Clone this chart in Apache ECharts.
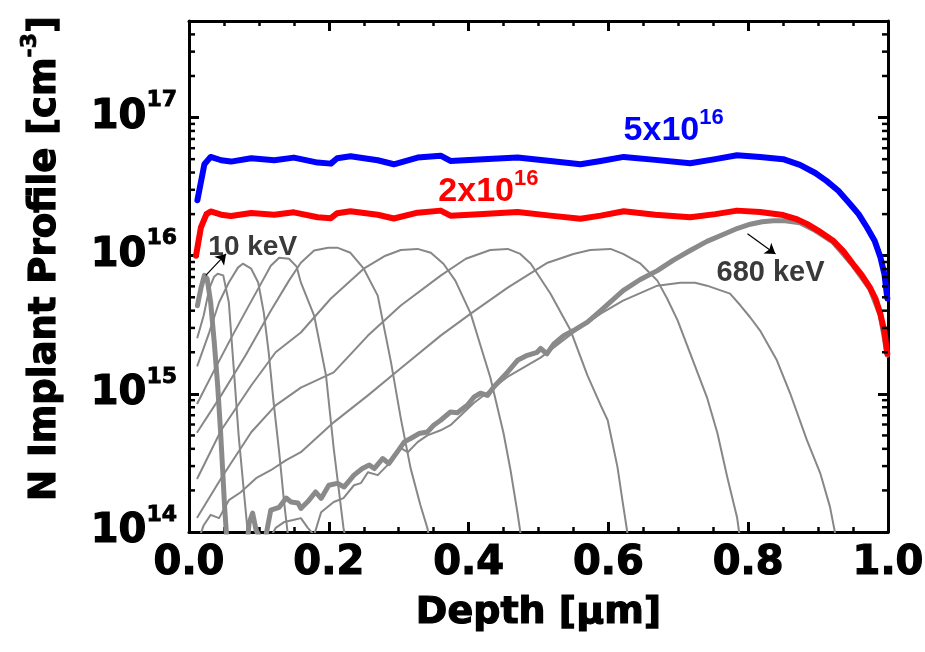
<!DOCTYPE html>
<html>
<head>
<meta charset="utf-8">
<script src="https://cdn.jsdelivr.net/npm/echarts@6/dist/echarts.min.js"></script>
<style>
  html, body { margin: 0; padding: 0; background: #fff; }
  #chart { width: 925px; height: 652px; }
</style>
</head>
<body>
<div id="chart"></div>
<script>
// Axis ranges
const depthMin = 0, depthMax = 1.0, depthStep = 0.2;
const concMin = 1e14, concMax = 5e17;
const concMantissas = [2, 3, 4, 5, 6, 7, 8, 9];

// Total box profiles: [depth (µm), N concentration (cm^-3)]
const box5e16 = [
  [0.012, 2.52e16], [0.022, 4.59e16], [0.031, 5.19e16], [0.046, 4.91e16], [0.060, 4.80e16],
  [0.089, 5.07e16], [0.122, 4.91e16], [0.150, 5.13e16], [0.184, 4.72e16], [0.203, 4.64e16],
  [0.212, 5.07e16], [0.231, 5.25e16], [0.270, 4.91e16], [0.293, 4.59e16], [0.327, 5.13e16],
  [0.360, 5.30e16], [0.374, 4.85e16], [0.421, 5.00e16], [0.470, 5.13e16], [0.517, 4.85e16],
  [0.560, 4.59e16], [0.589, 4.85e16], [0.622, 5.19e16], [0.667, 4.94e16], [0.717, 4.67e16],
  [0.753, 5.00e16], [0.784, 5.34e16], [0.817, 5.19e16], [0.850, 5.00e16], [0.874, 4.54e16],
  [0.896, 3.97e16], [0.912, 3.48e16], [0.929, 2.95e16], [0.946, 2.36e16], [0.958, 2.00e16],
  [0.970, 1.60e16], [0.981, 1.28e16], [0.989, 9.8e15], [0.995, 7.3e15], [0.999, 4.9e15]
];
const box2e16 = [
  [0.010, 1.00e16], [0.017, 1.60e16], [0.025, 2.00e16], [0.031, 2.09e16], [0.046, 1.98e16],
  [0.060, 1.94e16], [0.089, 2.04e16], [0.122, 1.98e16], [0.150, 2.06e16], [0.184, 1.90e16],
  [0.203, 1.87e16], [0.212, 2.03e16], [0.231, 2.10e16], [0.270, 1.98e16], [0.293, 1.86e16],
  [0.327, 2.05e16], [0.360, 2.12e16], [0.374, 1.95e16], [0.421, 2.00e16], [0.470, 2.07e16],
  [0.517, 1.95e16], [0.560, 1.85e16], [0.589, 1.95e16], [0.622, 2.10e16], [0.667, 1.98e16],
  [0.717, 1.90e16], [0.753, 2.00e16], [0.784, 2.12e16], [0.817, 2.07e16], [0.850, 1.97e16],
  [0.868, 1.85e16], [0.884, 1.70e16], [0.900, 1.52e16], [0.921, 1.29e16], [0.936, 1.08e16],
  [0.950, 8.7e15], [0.962, 7.3e15], [0.974, 5.9e15], [0.982, 4.9e15], [0.989, 3.8e15],
  [0.995, 2.8e15], [0.999, 1.95e15]
];

// Single-energy implant profiles (shallowest to deepest)
const implant10keV = [
  [0.012, 4.35e15], [0.017, 5.8e15], [0.022, 7.2e15], [0.026, 6.8e15], [0.031, 4.6e15],
  [0.036, 2.4e15], [0.041, 1.15e15], [0.045, 5.5e14], [0.048, 2.9e14], [0.051, 1.5e14],
  [0.054, 9e13]
];
const implantA = [
  [0.012, 2.56e15], [0.021, 3.69e15], [0.029, 5.78e15], [0.036, 7.05e15], [0.041, 7.41e15],
  [0.049, 7.2e15], [0.057, 4.58e15], [0.064, 1.53e15], [0.071, 5.0e14], [0.079, 1.85e14],
  [0.084, 1.0e14], [0.087, 7.4e13]
];
const implantB = [
  [0.012, 1.6e15], [0.029, 2.79e15], [0.043, 4.58e15], [0.057, 6.4e15], [0.070, 8.2e15],
  [0.077, 8.75e15], [0.089, 8.05e15], [0.099, 6.4e15], [0.107, 3.87e15], [0.114, 2.0e15],
  [0.121, 8.7e14], [0.129, 3.78e14], [0.136, 1.65e14], [0.141, 1.0e14], [0.146, 7.4e13]
];
const implantC = [
  [0.012, 8.54e14], [0.036, 1.48e15], [0.060, 2.52e15], [0.084, 4.21e15], [0.103, 6.28e15],
  [0.117, 8.47e15], [0.129, 9.68e15], [0.143, 9.5e15], [0.154, 8.33e15], [0.160, 6.4e15],
  [0.179, 3.69e15], [0.196, 1.36e15], [0.207, 4.04e14], [0.221, 1.07e14], [0.226, 8e13]
];
const implantD = [
  [0.012, 5.3e14], [0.046, 9.75e14], [0.081, 1.9e15], [0.117, 4.0e15], [0.143, 6.6e15],
  [0.160, 8.9e15], [0.179, 1.09e16], [0.199, 1.14e16], [0.213, 1.14e16], [0.231, 1.05e16],
  [0.250, 8.05e15], [0.270, 5.14e15], [0.289, 1.69e15], [0.303, 6.65e14], [0.317, 2.9e14],
  [0.331, 1.57e14], [0.341, 1.07e14], [0.346, 8e13]
];
const implantE = [
  [0.012, 2.45e14], [0.046, 5.45e14], [0.089, 1.15e15], [0.124, 2.0e15], [0.160, 2.78e15],
  [0.203, 4.9e15], [0.250, 8.05e15], [0.281, 1.0e16], [0.303, 1.1e16], [0.327, 1.12e16],
  [0.346, 1.05e16], [0.364, 8.75e15], [0.381, 6.6e15], [0.403, 3.81e15], [0.417, 2.24e15],
  [0.431, 1.32e15], [0.450, 5.19e14], [0.460, 2.8e14], [0.470, 1.37e14], [0.474, 1.0e14],
  [0.477, 8e13]
];
const implantF = [
  [0.012, 1.28e14], [0.046, 2.45e14], [0.089, 5.27e14], [0.124, 8.26e14], [0.160, 1.11e15],
  [0.207, 1.43e15], [0.256, 2.64e15], [0.303, 4.36e15], [0.360, 7.17e15], [0.396, 9.5e15],
  [0.431, 1.1e16], [0.456, 1.12e16], [0.474, 1.03e16], [0.489, 8.75e15], [0.517, 5.32e15],
  [0.546, 2.87e15], [0.570, 1.36e15], [0.589, 8.26e14], [0.599, 6.44e14], [0.613, 2.95e14],
  [0.620, 1.7e14], [0.627, 1.0e14], [0.630, 8e13]
];
const implantG = [
  [0.011, 8e13], [0.021, 1.12e14], [0.031, 1.33e14], [0.043, 1.26e14], [0.057, 1.7e14],
  [0.074, 1.94e14], [0.096, 2.45e14], [0.117, 2.8e14], [0.139, 3.31e14], [0.160, 3.78e14],
  [0.207, 6.22e14], [0.256, 9.75e14], [0.303, 1.53e15], [0.360, 2.64e15], [0.403, 3.81e15],
  [0.456, 5.87e15], [0.513, 8.9e15], [0.550, 1.03e16], [0.574, 1.1e16], [0.603, 1.12e16],
  [0.621, 1.03e16], [0.646, 8.75e15], [0.670, 6.6e15], [0.684, 4.9e15], [0.699, 3.4e15],
  [0.717, 1.96e15], [0.741, 9.44e14], [0.756, 5.19e14], [0.770, 2.5e14], [0.784, 1.28e14],
  [0.787, 1.0e14], [0.790, 8e13]
];
const implantH = [
  [0.110, 8e13], [0.124, 1.07e14], [0.136, 1.18e14], [0.149, 1.22e14], [0.160, 1.26e14],
  [0.170, 1.07e14], [0.179, 9.5e13], [0.189, 1.39e14], [0.207, 1.65e14], [0.221, 1.76e14],
  [0.236, 2.18e14], [0.246, 2.26e14], [0.256, 2.71e14], [0.270, 2.58e14], [0.284, 3.05e14],
  [0.293, 3.6e14], [0.303, 4.04e14], [0.313, 3.78e14], [0.327, 4.47e14], [0.341, 5.01e14],
  [0.360, 5.45e14], [0.374, 5.93e14], [0.407, 8.54e14], [0.455, 1.32e15], [0.503, 1.83e15],
  [0.550, 2.78e15], [0.589, 3.81e15], [0.621, 4.73e15], [0.670, 6.07e15], [0.703, 6.38e15],
  [0.724, 6.38e15], [0.741, 6.07e15], [0.774, 5.32e15], [0.789, 4.36e15], [0.803, 3.57e15],
  [0.817, 2.87e15], [0.841, 1.75e15], [0.860, 1.01e15], [0.884, 4.62e14], [0.903, 2.67e14],
  [0.917, 1.52e14], [0.924, 1.0e14], [0.927, 8e13]
];
const implant680keV = [
  [0.083, 8e13], [0.086, 1.16e14], [0.091, 1.37e14], [0.096, 1.03e14], [0.103, 8.8e13],
  [0.110, 9.4e13], [0.117, 1.44e14], [0.129, 1.51e14], [0.139, 1.76e14], [0.146, 1.65e14],
  [0.156, 1.62e14], [0.160, 1.48e14], [0.170, 1.66e14], [0.181, 1.95e14], [0.189, 1.75e14],
  [0.200, 2.18e14], [0.212, 2.25e14], [0.222, 2.12e14], [0.236, 2.58e14], [0.248, 2.88e14],
  [0.258, 3.05e14], [0.265, 2.88e14], [0.277, 3.4e14], [0.286, 3.13e14], [0.298, 3.8e14],
  [0.308, 4.49e14], [0.317, 4.75e14], [0.329, 5.16e14], [0.341, 5.3e14], [0.350, 5.93e14],
  [0.360, 6.44e14], [0.374, 7.39e14], [0.384, 7.3e14], [0.398, 8.26e14], [0.408, 9.5e14],
  [0.417, 1.01e15], [0.427, 9.75e14], [0.436, 1.12e15], [0.449, 1.32e15], [0.456, 1.44e15],
  [0.470, 1.75e15], [0.484, 1.9e15], [0.498, 2.0e15], [0.503, 2.13e15], [0.512, 1.95e15],
  [0.522, 2.3e15], [0.536, 2.64e15], [0.550, 2.87e15], [0.570, 3.3e15], [0.589, 4.0e15],
  [0.621, 5.59e15], [0.645, 6.7e15], [0.670, 7.8e15], [0.693, 9.3e15], [0.717, 1.09e16],
  [0.741, 1.27e16], [0.765, 1.43e16], [0.785, 1.58e16], [0.803, 1.69e16], [0.820, 1.76e16],
  [0.836, 1.79e16], [0.853, 1.79e16], [0.874, 1.73e16], [0.896, 1.52e16], [0.921, 1.26e16],
  [0.950, 8.5e15], [0.974, 5.75e15], [0.989, 3.7e15], [0.999, 1.9e15]
];

// Annotation anchors [depth, concentration]
const note5e16 = [0.621, 8.0e16];
const note2e16 = [0.356, 2.9e16];
const note10keV = [0.027, 1.16e16];
const note680keV = [0.754, 7.5e15];
const arrow10keV = [[0.024, 7.2e15], [0.053, 1.03e16]];
const arrow680keV = [[0.799, 1.44e16], [0.839, 1.03e16]];

// Minor ticks of the log axis: 2..9 x 10^n inside the range
const minorConcTicks = [];
for (let e = 14; e <= 17; e++) {
  concMantissas.forEach(m => {
    const v = m * Math.pow(10, e);
    if (v > concMin && v < concMax) minorConcTicks.push([depthMin, v]);
  });
}

const AXIS_FONT = "'DejaVu Sans', sans-serif";
const NOTE_FONT = "'Liberation Sans', Arial, sans-serif";
const BLACK = '#000';
// heavy axis lettering: bold face thickened with a thin outline of the same colour
const heavy = { fontFamily: AXIS_FONT, fontWeight: 'bold', color: BLACK, textBorderColor: BLACK, textBorderWidth: 1.2 };
const frameLine = { show: true, onZero: false, lineStyle: { color: BLACK, width: 3 } };
const majorTick = { show: true, inside: true, length: 10, lineStyle: { color: BLACK, width: 3 } };
const minorTickX = { show: true, splitNumber: 4, length: 5, lineStyle: { color: BLACK, width: 2.5 } };

function profile(name, data, width, color, z) {
  return {
    type: 'line', name, data, symbol: 'none', showSymbol: false, clip: true,
    lineStyle: { color, width, join: 'round', cap: 'round' }, z, silent: true
  };
}

function noteRich(color) {
  return {
    n: { fontFamily: NOTE_FONT, fontWeight: 'bold', fontSize: 34, lineHeight: 48, color },
    s: { fontFamily: NOTE_FONT, fontWeight: 'bold', fontSize: 22, verticalAlign: 'top', color }
  };
}

const chart = echarts.init(document.getElementById('chart'), null, { renderer: 'canvas' });

chart.setOption({
  animation: false,
  backgroundColor: '#fff',
  grid: { left: 189, right: 37, top: 21, bottom: 120, containLabel: false, outerBoundsMode: 'none' },
  xAxis: [
    {
      type: 'value', position: 'bottom', min: depthMin, max: depthMax, interval: depthStep,
      axisLine: frameLine, axisTick: majorTick, minorTick: minorTickX,
      splitLine: { show: false }, minorSplitLine: { show: false },
      axisLabel: Object.assign({}, heavy, { fontSize: 40, margin: 12, formatter: v => v.toFixed(1) }),
      name: 'Depth [μm]', nameLocation: 'middle', nameGap: 62,
      nameTextStyle: Object.assign({}, heavy, { fontSize: 38 })
    },
    {
      type: 'value', position: 'top', min: depthMin, max: depthMax, interval: depthStep,
      axisLine: frameLine, axisTick: majorTick, minorTick: minorTickX,
      splitLine: { show: false }, minorSplitLine: { show: false }, axisLabel: { show: false }
    }
  ],
  yAxis: [
    {
      type: 'log', logBase: 10, position: 'left', min: concMin, max: concMax,
      axisLine: frameLine, axisTick: majorTick,
      splitLine: { show: false }, minorTick: { show: false },
      axisLabel: {
        margin: 12,
        formatter: v => {
          const e = Math.log10(v), r = Math.round(e);
          return Math.abs(e - r) > 1e-6 ? '' : '{b|10}{s|' + r + '}';
        },
        rich: {
          b: Object.assign({}, heavy, { fontSize: 40, lineHeight: 56 }),
          s: Object.assign({}, heavy, { fontSize: 22, verticalAlign: 'top', textBorderWidth: 0.8 })
        }
      },
      // leading spacer moves the title slightly toward the top of the axis
      name: '{p| }{t|N Implant Profile [cm}{u|-3}{t|]}', nameLocation: 'middle', nameRotate: 90, nameGap: 118,
      nameTextStyle: {
        rich: {
          p: { width: 36, fontSize: 37, lineHeight: 52 },
          t: Object.assign({}, heavy, { fontSize: 37, lineHeight: 52 }),
          u: Object.assign({}, heavy, { fontSize: 22, verticalAlign: 'top', textBorderWidth: 0.8 })
        }
      }
    },
    {
      type: 'log', logBase: 10, position: 'right', min: concMin, max: concMax,
      axisLine: frameLine, axisTick: majorTick,
      splitLine: { show: false }, minorTick: { show: false }, axisLabel: { show: false }
    }
  ],
  series: [
    profile('10 keV', implant10keV, 5, '#8a8a8a', 2),
    profile('A', implantA, 2, '#878787', 2),
    profile('B', implantB, 2, '#878787', 2),
    profile('C', implantC, 2, '#878787', 2),
    profile('D', implantD, 2, '#878787', 2),
    profile('E', implantE, 2, '#878787', 2),
    profile('F', implantF, 2, '#878787', 2),
    profile('G', implantG, 2, '#878787', 2),
    profile('H', implantH, 2, '#878787', 2),
    profile('680 keV', implant680keV, 5, '#8a8a8a', 3),
    profile('2x10^16', box2e16, 6, '#ff0000', 4),
    profile('5x10^16', box5e16, 6, '#0000ff', 4),
    {
      // log-axis minor ticks on the left and right frame
      type: 'custom', coordinateSystem: 'cartesian2d', silent: true, clip: false, z: 5,
      data: minorConcTicks,
      renderItem: (params, api) => {
        const v = api.value(1);
        const L = api.coord([depthMin, v]);
        const R = api.coord([depthMax, v]);
        const style = { stroke: BLACK, lineWidth: 2.5 };
        return {
          type: 'group', children: [
            { type: 'line', shape: { x1: L[0], y1: L[1], x2: L[0] + 6, y2: L[1] }, style },
            { type: 'line', shape: { x1: R[0] - 6, y1: R[1], x2: R[0], y2: R[1] }, style }
          ]
        };
      }
    },
    {
      type: 'lines', coordinateSystem: 'cartesian2d', silent: true, z: 6,
      symbol: ['none', 'arrow'], symbolSize: 10,
      lineStyle: { color: BLACK, width: 1.2, opacity: 1, curveness: 0 },
      data: [{ coords: arrow10keV }, { coords: arrow680keV }]
    },
    {
      type: 'scatter', silent: true, z: 7, symbolSize: 1,
      itemStyle: { color: 'rgba(0,0,0,0)', opacity: 1 },
      label: { show: true, position: 'right', distance: 0, opacity: 1 },
      data: [
        { value: note5e16, label: { formatter: '{n|5x10}{s|16}', rich: noteRich('#0000ff') } },
        { value: note2e16, label: { formatter: '{n|2x10}{s|16}', rich: noteRich('#ff0000') } },
        {
          value: note10keV,
          label: { formatter: '10 keV', fontFamily: NOTE_FONT, fontWeight: 'bold', fontSize: 28, color: '#3a3a3a' }
        },
        {
          value: note680keV,
          label: { formatter: '680 keV', fontFamily: NOTE_FONT, fontWeight: 'bold', fontSize: 29, color: '#3a3a3a' }
        }
      ]
    }
  ]
});
</script>
</body>
</html>
